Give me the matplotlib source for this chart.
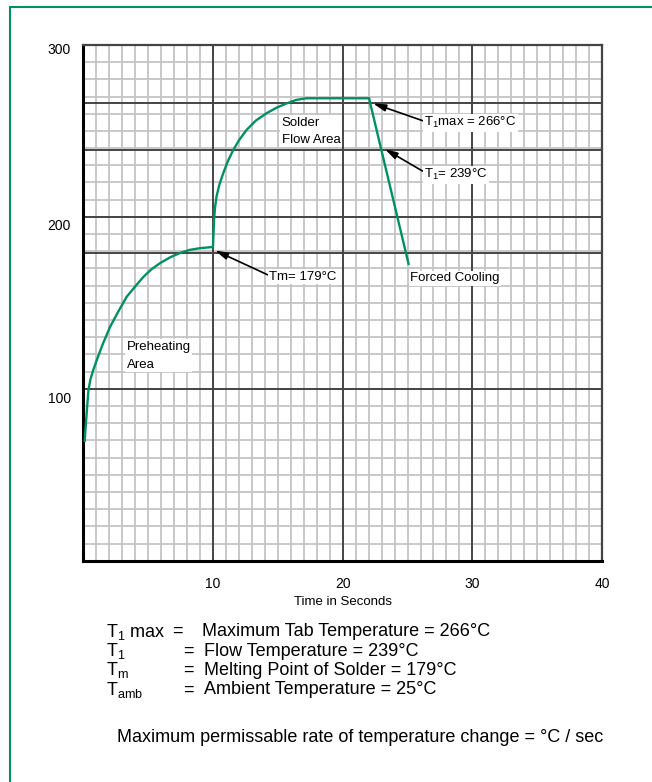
import numpy as np
import matplotlib
matplotlib.use("Agg")
from matplotlib import pyplot as plt
from matplotlib.patches import Rectangle
from matplotlib.transforms import ScaledTranslation

plt.rcParams['font.family'] = ['Liberation Sans', 'DejaVu Sans']
plt.rcParams['mathtext.fontset'] = 'custom'
plt.rcParams['mathtext.rm'] = 'Liberation Sans'

GREEN = '#00915f'

# soldering profile (time s, temperature degC)
preheat_t = [0.1, 0.18, 0.27, 0.39, 0.55, 0.77, 1.1, 1.5, 2.06, 2.7, 3.34,
             4.0, 4.62, 5.25, 5.9, 6.7, 7.45, 8.2, 9.0, 10.0]
preheat_T = [69, 78, 87, 99, 105.5, 111, 118, 126, 136, 145, 153.5,
             159.5, 165, 169.5, 173, 176.5, 179, 180.8, 181.8, 182.5]
flow_t = [10.0, 10.08, 10.15, 10.27, 10.5, 10.79, 11.15, 11.56, 12.0, 12.59,
          13.3, 14.13, 14.9, 15.67, 16.4, 17.2, 22.03]
flow_T = [182.5, 198, 205, 211.8, 219, 225.4, 232.5, 238.9, 244.5, 250.6,
          256, 260.3, 263.5, 266, 268, 269, 269]
cool_t = [22.03, 25.1]
cool_T = [269, 172]

x_ticks = [10, 20, 30, 40]
y_ticks = [100, 200, 300]
marked_levels = [179, 239, 266]

legend_rows = [
    (r'T$_\mathrm{1}$ max', 'Maximum Tab Temperature = 266°C'),
    (r'T$_\mathrm{1}$', 'Flow Temperature = 239°C'),
    (r'T$_\mathrm{m}$', 'Melting Point of Solder = 179°C'),
    (r'T$_\mathrm{amb}$', 'Ambient Temperature = 25°C'),
]
note = 'Maximum permissable rate of temperature change = °C / sec'


def main():
    fig = plt.figure(figsize=(6.52, 7.82), dpi=100)
    ax = fig.add_axes([0.1278, 0.283, 0.7956, 0.6595])
    ax.set_xlim(0, 40)
    ax.set_ylim(0, 300)

    # graph paper grid
    for x in range(1, 40):
        if x % 10:
            ax.axvline(x, color='#c4c4c4', lw=1.3, zorder=1)
    for y in range(10, 300, 10):
        ax.axhline(y, color='#c4c4c4', lw=1.3, zorder=1)
    for x in x_ticks[:-1]:
        ax.axvline(x, color='#444444', lw=1.4, zorder=2)
    for y in y_ticks[:-1] + marked_levels:
        ax.axhline(y, color='#444444', lw=1.4, zorder=2)

    for side in ['left', 'bottom']:
        ax.spines[side].set_linewidth(2.2)
        ax.spines[side].set_color('black')
    for side in ['top', 'right']:
        ax.spines[side].set_linewidth(1.6)
        ax.spines[side].set_color('#444444')

    ax.set_xticks(x_ticks)
    ax.set_yticks(y_ticks)
    ax.tick_params(length=0, labelsize=10)
    ax.tick_params(axis='y', pad=9)
    ax.tick_params(axis='x', pad=12)
    ax.set_xlabel('Time in Seconds', fontsize=9.5, labelpad=3)
    # the y labels sit a little under their lines in the original
    for lab, off in zip(ax.get_yticklabels(), [9, 8, 3.5]):
        lab.set_transform(lab.get_transform() +
                          ScaledTranslation(0, -off / 100, fig.dpi_scale_trans))

    # the profile
    ax.plot(preheat_t, preheat_T, color=GREEN, lw=1.7, zorder=5,
            solid_capstyle='butt')
    ax.plot(flow_t, flow_T, color=GREEN, lw=1.7, zorder=5)
    ax.plot(cool_t, cool_T, color=GREEN, lw=1.7, zorder=5,
            solid_capstyle='butt')

    box = dict(facecolor='white', edgecolor='none', pad=1.0)
    arrow = dict(arrowstyle='-|>,head_length=0.8,head_width=0.22',
                 color='black', lw=1.2, shrinkA=0, shrinkB=0)
    fs = 9.5

    ax.text(15.3, 249.8, 'Solder\nFlow Area', fontsize=fs, va='center',
            linespacing=1.6, bbox=box, zorder=6)
    ax.text(3.34, 119.2, 'Preheating\nArea', fontsize=fs, va='center',
            linespacing=1.65, bbox=box, zorder=6)
    ax.text(25.22, 164.3, 'Forced Cooling', fontsize=fs, va='center',
            bbox=box, zorder=6)

    ax.annotate('Tm= 179°C', xy=(10.15, 180.5), xytext=(14.33, 165.2),
                fontsize=fs, va='center', bbox=box, zorder=6,
                arrowprops=dict(arrow, relpos=(0, 0.6)))
    ax.annotate(r'T$_\mathrm{1}$max = 266°C', xy=(22.34, 266),
                xytext=(26.27, 254.8), fontsize=fs, va='center', bbox=box,
                zorder=6, arrowprops=dict(arrow, relpos=(0, 0.6)))
    ax.annotate(r'T$_\mathrm{1}$= 239°C', xy=(23.24, 239.5),
                xytext=(26.27, 224.4), fontsize=fs, va='center', bbox=box,
                zorder=6, arrowprops=dict(arrow, relpos=(0, 0.7)))

    # key below the chart
    rows_y = [631.7, 651.1, 670.5, 690]
    eq_x = [172, 183, 183, 183]
    desc_x = [202, 204, 204, 204]
    for (sym, desc), py, ex, dx in zip(legend_rows, rows_y, eq_x, desc_x):
        yy = 1 - py / 782
        fig.text(106 / 652, yy, sym, fontsize=13, va='center')
        fig.text(ex / 652, yy, '=', fontsize=13, va='center')
        fig.text(dx / 652, yy, desc, fontsize=13, va='center')
    fig.text(117 / 652, 1 - 737 / 782, note, fontsize=13, va='center')

    # green frame round the figure
    fig.add_artist(Rectangle((10 / 652, -0.05), 1.2, 1 - 7 / 782 + 0.05,
                             transform=fig.transFigure, fill=False,
                             edgecolor=GREEN, lw=1.5, clip_on=False))

    fig.savefig('out.png', dpi=100)


if __name__ == "__main__":
    main()
